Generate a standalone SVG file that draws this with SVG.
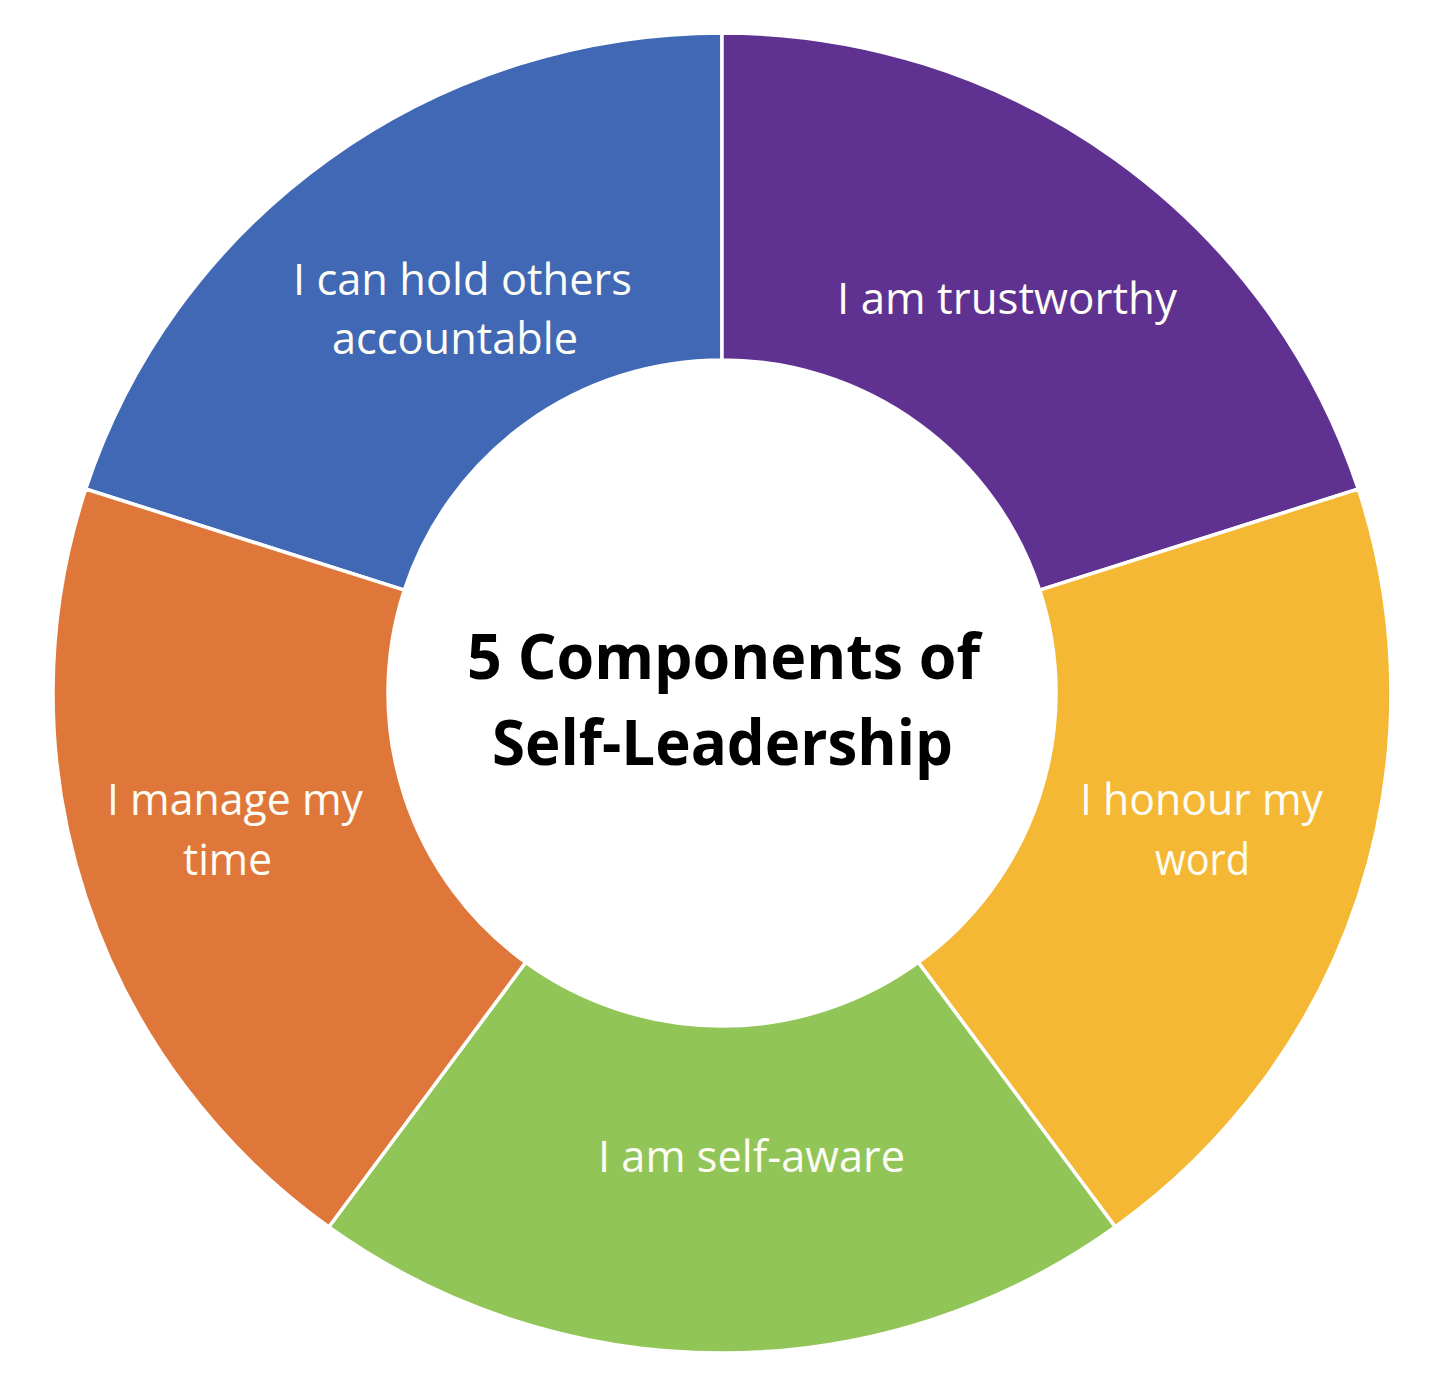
<svg xmlns="http://www.w3.org/2000/svg" width="1444" height="1392" viewBox="0 0 1444 1392">
  <style>
    .seg { stroke: #ffffff; stroke-width: 3.5; stroke-linejoin: miter; }
    .lbl { font-family: "Open Sans", "Liberation Sans", sans-serif; font-size: 43px; fill: #fdfdf6; text-anchor: middle; }
    .title { font-family: "Open Sans", "Liberation Sans", sans-serif; font-size: 63px; font-weight: bold; fill: #000000; text-anchor: middle; }
  </style>
  <rect x="0" y="0" width="1444" height="1392" fill="#ffffff"/>
  <g id="seg-accountable">
    <path class="seg" fill="#4068B5" d="M 85.74 489.05 A 669 660 0 0 1 722 33 L 722 360 A 334 333 0 0 0 404.35 590.10 Z"/>
    <text class="lbl" x="462.5" y="295" textLength="339" lengthAdjust="spacingAndGlyphs">I can hold others</text>
    <text class="lbl" x="455" y="354" textLength="246" lengthAdjust="spacingAndGlyphs">accountable</text>
  </g>
  <g id="seg-trustworthy">
    <path class="seg" fill="#5F3292" d="M 722 33 A 669 660 0 0 1 1358.26 489.05 L 1039.65 590.10 A 334 333 0 0 0 722 360 Z"/>
    <text class="lbl" x="1007" y="314" textLength="340" lengthAdjust="spacingAndGlyphs">I am trustworthy</text>
  </g>
  <g id="seg-honour">
    <path class="seg" fill="#F5B835" d="M 1358.26 489.05 A 669 660 0 0 1 1115.23 1226.95 L 918.32 962.40 A 334 333 0 0 0 1039.65 590.10 Z"/>
    <text class="lbl" x="1201.5" y="815" textLength="243" lengthAdjust="spacingAndGlyphs">I honour my</text>
    <text class="lbl" x="1202.5" y="875" textLength="95" lengthAdjust="spacingAndGlyphs">word</text>
  </g>
  <g id="seg-selfaware">
    <path class="seg" fill="#92C557" d="M 1115.23 1226.95 A 669 660 0 0 1 328.77 1226.95 L 525.68 962.40 A 334 333 0 0 0 918.32 962.40 Z"/>
    <text class="lbl" x="751.5" y="1172" textLength="307" lengthAdjust="spacingAndGlyphs">I am self-aware</text>
  </g>
  <g id="seg-time">
    <path class="seg" fill="#E0773A" d="M 328.77 1226.95 A 669 660 0 0 1 85.74 489.05 L 404.35 590.10 A 334 333 0 0 0 525.68 962.40 Z"/>
    <text class="lbl" x="235" y="815" textLength="256" lengthAdjust="spacingAndGlyphs">I manage my</text>
    <text class="lbl" x="227.5" y="875" textLength="89" lengthAdjust="spacingAndGlyphs">time</text>
  </g>
  <g id="center-title">
    <text class="title" x="723.5" y="679" textLength="513" lengthAdjust="spacingAndGlyphs">5 Components of</text>
    <text class="title" x="722.5" y="765" textLength="461" lengthAdjust="spacingAndGlyphs">Self-Leadership</text>
  </g>
  <g id="connectors"></g>
</svg>
